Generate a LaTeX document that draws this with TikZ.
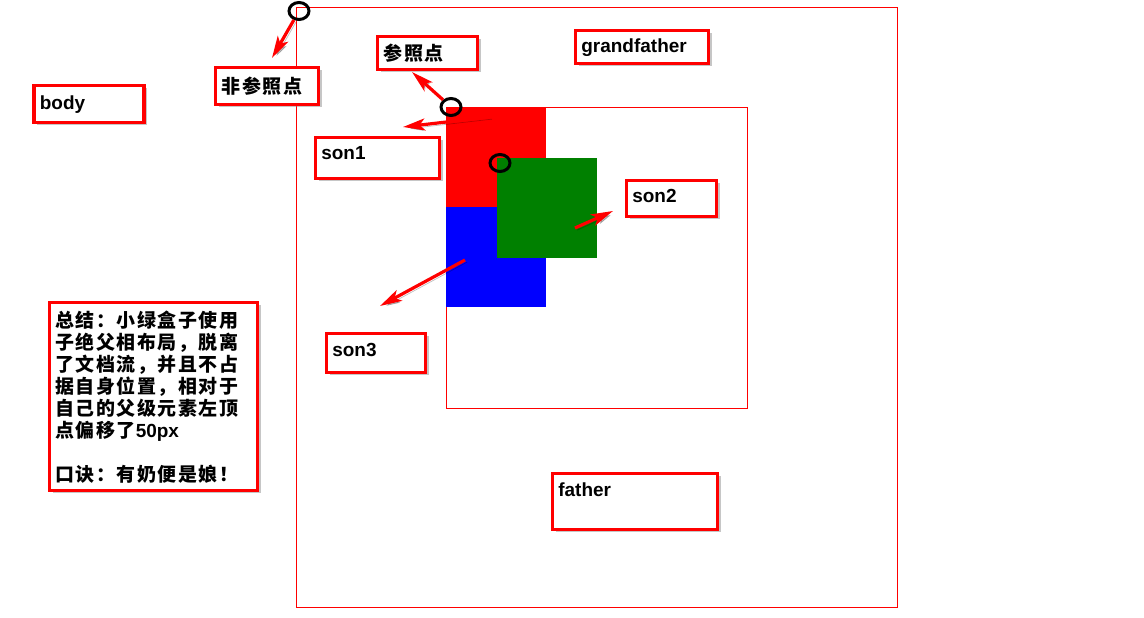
\documentclass[tikz,border=0pt]{standalone}
\usepackage{fontspec}
\setmainfont{Liberation Sans}
\newfontfamily\cjk[LetterSpace=8]{Noto Sans CJK SC}
\usetikzlibrary{shadows,arrows.meta,shapes.geometric,positioning}
\newdimen\pix
\pix=0.02cm
\definecolor{boxgreen}{RGB}{0,128,0}

\begin{document}
\begin{tikzpicture}
  [x=0.02cm,y=-0.02cm]
      \tikzstyle{tag_box} = [draw=red, line width=3.2\pix, fill=white, rectangle, inner sep=0pt, outer sep=0pt, anchor=north west, drop shadow={shadow xshift=3\pix, shadow yshift=-3\pix, opacity=0.45}]
      \tikzstyle{tag_text} = [anchor=north west, inner sep=0pt, font=\bfseries\fontsize{10.8pt}{12.5pt}\selectfont]
      \tikzstyle{cjk_text} = [anchor=north west, inner sep=0pt, align=left, font=\cjk\bfseries\fontsize{10.8pt}{12.5pt}\selectfont]
      \tikzstyle{pin_style} = [draw=black, line width=3\pix, ellipse, inner sep=0pt, minimum width=20\pix, minimum height=17\pix]
      \tikzstyle{edge_style} = [draw=red, line width=3.2\pix, -{Stealth[length=12.5pt, width=6.8pt, inset=3pt]},
        preaction={draw=black, opacity=0.25, transform canvas={shift={(1.2pt,-1.2pt)}}}]
  \useasboundingbox (0,0) rectangle (1144,618);
  % the nested boxes
  \draw[red, line width=1\pix] (296.5,7.5) rectangle (897.5,607.5);
  \draw[red, line width=1\pix] (446.5,107.5) rectangle (747.5,408.5);
  \fill[red] (446,107) rectangle (546,207);
  \fill[blue] (446,207) rectangle (546,307);
  \fill[boxgreen] (497,158) rectangle (597,258);
  \node[pin_style] (pin1) at (299,11) {};
  \node[pin_style] (pin2) at (451,107) {};
  \node[pin_style] (pin3) at (500,163) {};
  % label boxes
  \node[tag_box, minimum width=110\pix, minimum height=37\pix] (body) at (34,85.5) {};
  \node[tag_box, minimum width=103\pix, minimum height=37\pix] (nref) at (215.5,67.5) {};
  \node[tag_box, minimum width=100\pix, minimum height=33\pix] (ref) at (377.5,36.5) {};
  \node[tag_box, minimum width=133\pix, minimum height=33\pix] (gflabel) at (575.5,30.5) {};
  \node[tag_box, minimum width=124\pix, minimum height=41\pix] (son1) at (315.5,137.5) {};
  \node[tag_box, minimum width=90\pix, minimum height=36\pix] (son2) at (626.5,180.5) {};
  \node[tag_box, minimum width=99\pix, minimum height=39\pix] (son3) at (326.5,333.5) {};
  \node[tag_box, minimum width=208\pix, minimum height=188\pix] (summary) at (49.5,302.5) {};
  \node[tag_box, minimum width=165\pix, minimum height=56\pix] (father) at (552.5,473.5) {};
  \node[tag_text] (bodytxt) at ([shift={(5.5,9.5)}]body.north west) {body};
  \node[tag_text] (gftxt) at ([shift={(5.5,8)}]gflabel.north west) {grandfather};
  \node[tag_text] (son1txt) at ([shift={(5.5,9)}]son1.north west) {son1};
  \node[tag_text] (son2txt) at ([shift={(5.5,8)}]son2.north west) {son2};
  \node[tag_text] (son3txt) at ([shift={(5.5,9)}]son3.north west) {son3};
  \node[tag_text] (fathertxt) at ([shift={(5.5,9)}]father.north west) {father};
  \node[cjk_text] (nreftxt) at ([shift={(6,9)}]nref.north west) {非参照点};
  \node[cjk_text] (reftxt) at ([shift={(6,7)}]ref.north west) {参照点};
  \node[cjk_text] (sumtxt) at ([shift={(5.5,8)}]summary.north west)
    {总结：小绿盒子使用\\子绝父相布局，脱离\\了文档流，并且不占\\据自身位置，相对于\\自己的父级元素左顶\\点偏移了{\rmfamily\bfseries 50px}\\[12.5pt]口诀：有奶便是娘！};
  % arrows
  \coordinate (tip1) at (272,58);
  \coordinate (tip2) at (412,72);
  \coordinate (tail3) at (490,117);
  \coordinate (tip3) at (403,127);
  \coordinate (tail4) at (575,228);
  \coordinate (tip4) at (613,211);
  \coordinate (tail5) at (465,260);
  \coordinate (tip5) at (380,306);
  \draw[edge_style] (pin1) -- (tip1);
  \draw[edge_style] (pin2) -- (tip2);
  \draw[edge_style] (tail3) -- (tip3);
  \draw[edge_style] (tail4) -- (tip4);
  \draw[edge_style] (tail5) -- (tip5);
\end{tikzpicture}
\end{document}
